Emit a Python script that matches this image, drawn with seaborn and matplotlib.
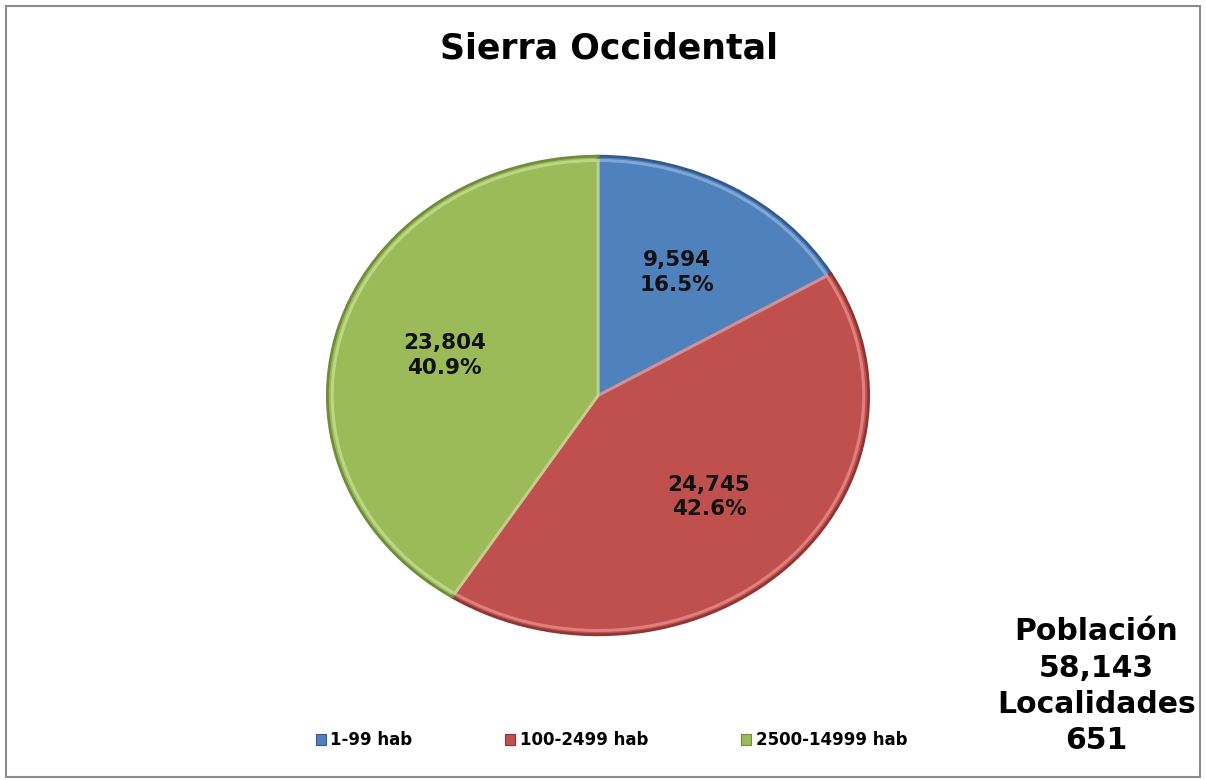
import matplotlib
matplotlib.use('Agg')
import matplotlib.pyplot as plt
import matplotlib.patches as mpatches
import numpy as np
import seaborn as sns

# data
categories = ['1-99 hab', '100-2499 hab', '2500-14999 hab']
poblacion = [9594, 24745, 23804]
colores = ['#4F81BD', '#C0504D', '#9BBB59']
bordes = ['#34598A', '#8E3634', '#6F8C3A']
brillos = ['#8DB0DC', '#E58E8B', '#C6DC92']
titulo = 'Sierra Occidental'
total_texto = 'Población\n58,143\nLocalidades\n651'

sns.set_theme(style='white')
plt.rcParams['font.family'] = ['DejaVu Sans']
plt.rcParams['font.weight'] = 'bold'
plt.rcParams['text.color'] = 'black'

fig = plt.figure(figsize=(12.06, 7.8), dpi=100)
fig.patch.set_facecolor('white')

# marco gris
fig.patches.append(mpatches.Rectangle((6 / 1206, 3 / 780), 1194 / 1206, 771 / 780,
                                      transform=fig.transFigure, fill=False,
                                      edgecolor='#8c8c8c', linewidth=1.5))

ax = fig.add_axes([326 / 1206, 1 - 636 / 780, 544 / 1206, 481 / 780])
total = sum(poblacion)


def etiqueta(pct):
    val = int(round(pct * total / 100.0))
    return f'{val:,}\n{pct:.1f}%'


palette = sns.color_palette(colores)
wedges = ax.pie(poblacion, colors=palette, startangle=90, counterclock=False,
                wedgeprops=dict(linewidth=2.0))[0]
for w, b in zip(wedges, bordes):
    w.set_edgecolor(b)

# bisel claro interior
bisel = ax.pie(poblacion, radius=0.982, startangle=90, counterclock=False,
               wedgeprops=dict(linewidth=2.2, fill=False))[0]
for w, c in zip(bisel, brillos):
    w.set_edgecolor(c)
    w.set_alpha(0.8)

# etiquetas dentro de las rebanadas
ang0 = 90.0
for v in poblacion:
    frac = v / total
    mid = np.deg2rad(ang0 - frac * 180.0)
    ang0 -= frac * 360.0
    ax.text(0.59 * np.cos(mid), 0.59 * np.sin(mid), etiqueta(frac * 100),
            ha='center', va='center', fontsize=15.5, fontweight='bold',
            color='#111111', linespacing=1.3)

ax.set_aspect('auto')
ax.set_xlim(-1.005, 1.005)
ax.set_ylim(-1.005, 1.005)
ax.axis('off')

fig.text(0.505, 0.938, titulo, ha='center', va='center', fontsize=25,
         fontweight='bold', color='black')

fig.text(0.909, 0.12, total_texto, ha='center', va='center', fontsize=21.5,
         fontweight='bold', color='black', linespacing=1.32)

handles = [mpatches.Patch(facecolor=c, edgecolor=b, linewidth=0.8)
           for c, b in zip(colores, bordes)]
leg = fig.legend(handles, categories, loc='center', bbox_to_anchor=(0.507, 0.051),
                 ncol=3, frameon=False, handlelength=0.6, handleheight=0.6,
                 handletextpad=0.25, columnspacing=5.6,
                 prop={'weight': 'bold', 'size': 12})
for t in leg.get_texts():
    t.set_color('black')

fig.savefig('out.png', dpi=100, facecolor='white')
